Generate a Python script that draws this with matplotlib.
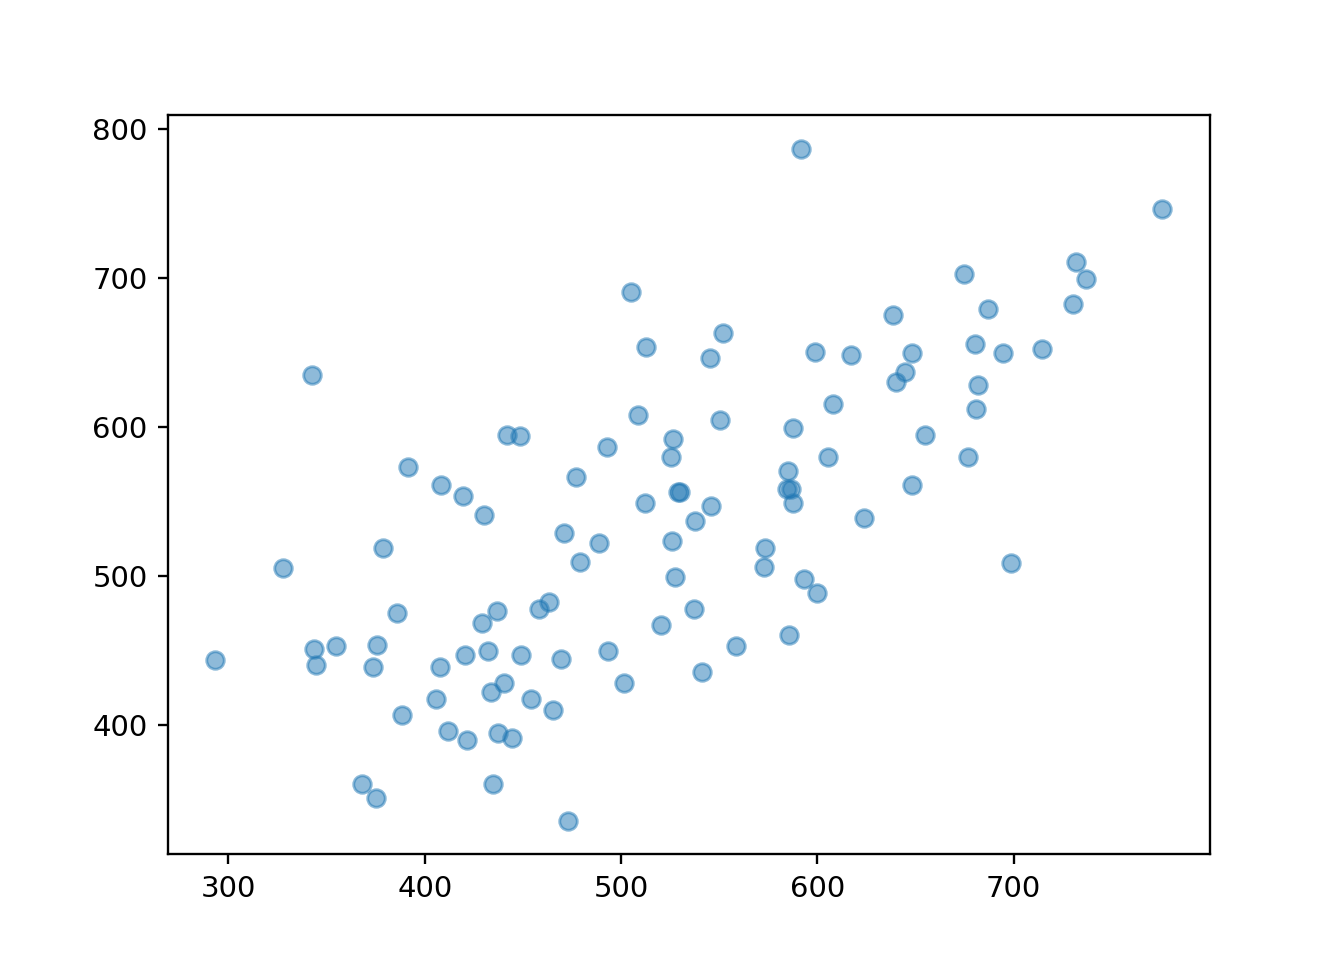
import matplotlib.pyplot as plt

# Point values
x_values = [
    293.3, 328.0, 342.3, 343.8, 344.8, 355.0, 367.8, 374.9, 373.4, 375.4,
    378.5, 385.6, 388.2, 391.2, 405.5, 407.5, 408.5, 411.6, 419.7, 420.3,
    421.3, 428.9, 430.4, 432.0, 433.5, 434.5, 436.6, 437.1, 440.6, 441.7,
    444.2, 448.3, 448.8, 453.9, 458.0, 463.1, 465.1, 469.2, 470.7, 472.8,
    476.8, 478.9, 488.5, 492.6, 493.1, 501.3, 504.8, 508.4, 512.5, 512.0,
    520.1, 525.2, 526.2, 525.7, 527.3, 528.8, 529.8, 536.9, 537.9, 541.0,
    545.1, 545.6, 550.2, 551.7, 558.3, 572.6, 573.1, 584.3, 584.8, 585.4,
    586.4, 587.4, 587.4, 591.5, 593.0, 598.6, 599.6, 605.2, 607.8, 617.0,
    623.7, 638.5, 640.0, 644.6, 648.2, 648.2, 654.8, 674.7, 676.8, 680.3,
    680.8, 681.8, 686.9, 694.5, 698.6, 714.4, 730.1, 731.7, 736.8, 775.7,
]
y_values = [
    443.6, 505.4, 634.9, 451.0, 440.3, 453.0, 360.4, 351.0, 438.9, 453.7,
    518.8, 475.2, 406.7, 573.2, 417.4, 438.9, 561.1, 396.0, 553.7, 447.0,
    389.9, 468.5, 540.9, 449.7, 422.1, 360.4, 476.5, 394.6, 428.2, 594.6,
    391.3, 594.0, 447.0, 417.4, 477.9, 482.6, 410.1, 444.3, 528.9, 335.6,
    566.4, 509.4, 522.1, 586.6, 449.7, 428.2, 690.6, 608.1, 653.7, 549.0,
    467.1, 579.9, 591.9, 523.5, 499.3, 556.4, 556.4, 477.9, 536.9, 435.6,
    646.3, 547.0, 604.7, 663.1, 453.0, 506.0, 518.8, 558.4, 570.5, 460.4,
    558.4, 549.0, 599.3, 786.6, 498.0, 650.3, 488.6, 579.9, 615.4, 648.3,
    539.0, 675.2, 630.2, 636.9, 649.7, 561.1, 594.6, 702.7, 579.9, 655.7,
    612.1, 628.2, 679.2, 649.7, 508.7, 652.3, 682.6, 710.7, 699.3, 746.3,
]


def run():
    figure = plt.figure(figsize=(6.4, 960 / 210), dpi=210)
    ax = figure.add_subplot()

    ax.scatter(x_values, y_values, alpha=0.5)

    figure.savefig('out.png', dpi=210)


if __name__ == '__main__':
    run()
